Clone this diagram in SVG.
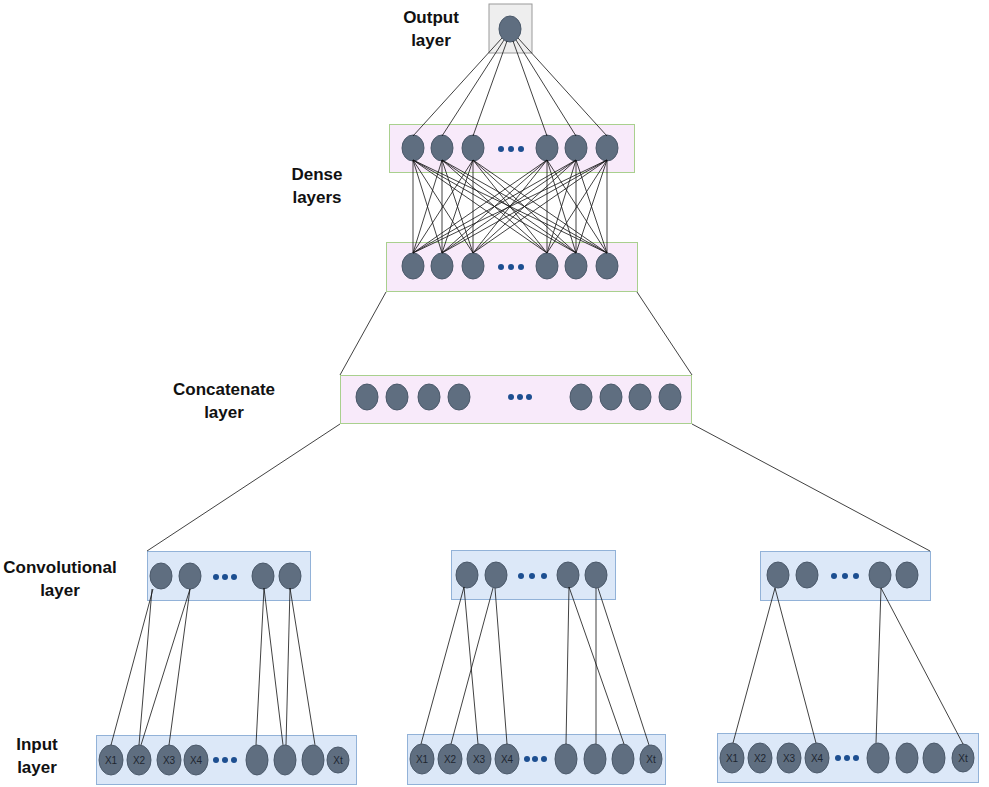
<svg xmlns="http://www.w3.org/2000/svg" width="989" height="787" viewBox="0 0 989 787">
<style>
.lbl{font-family:"Liberation Sans",Arial,sans-serif;font-size:17px;font-weight:bold;fill:#111;text-anchor:middle}
.nl{font-family:"Liberation Sans",Arial,sans-serif;font-size:10px;fill:#1e2630;text-anchor:middle}
.n{fill:#5f6e80;stroke:#4b596a;stroke-width:1}
.dot{fill:#1d4f91}
.pink{fill:#f8eafa;stroke:#a9d08e;stroke-width:1}
.blue{fill:#dce8f8;stroke:#92b2d8;stroke-width:1}
.gray{fill:#eeeeee;stroke:#9a9a9a;stroke-width:1}
.c line{stroke:#111;stroke-width:0.8}
</style>
<rect width="989" height="787" fill="#ffffff"/>
<g id="labels">
<text class="lbl" x="431" y="23">Output</text>
<text class="lbl" x="431" y="46">layer</text>
<text class="lbl" x="317" y="180">Dense</text>
<text class="lbl" x="317" y="203">layers</text>
<text class="lbl" x="224" y="395">Concatenate</text>
<text class="lbl" x="224" y="418">layer</text>
<text class="lbl" x="60" y="573">Convolutional</text>
<text class="lbl" x="60" y="596">layer</text>
<text class="lbl" x="37" y="750">Input</text>
<text class="lbl" x="37" y="773">layer</text>
</g>
<g id="output">
<rect class="gray" x="489" y="4" width="43" height="49"/>
<ellipse class="n" cx="510" cy="29" rx="11" ry="13"/>
</g>
<g id="dense1">
<rect class="pink" x="389.5" y="124.5" width="245" height="48"/>
<ellipse class="n" cx="413" cy="148" rx="11" ry="13"/>
<ellipse class="n" cx="442" cy="148" rx="11" ry="13"/>
<ellipse class="n" cx="473" cy="148" rx="11" ry="13"/>
<circle class="dot" cx="501" cy="149" r="3"/><circle class="dot" cx="511" cy="149" r="3"/><circle class="dot" cx="521" cy="149" r="3"/>
<ellipse class="n" cx="547" cy="148" rx="11" ry="13"/>
<ellipse class="n" cx="576" cy="148" rx="11" ry="13"/>
<ellipse class="n" cx="607" cy="148" rx="11" ry="13"/>
</g>
<g id="dense2">
<rect class="pink" x="386.5" y="242.5" width="251" height="49"/>
<ellipse class="n" cx="413" cy="266" rx="11" ry="13"/>
<ellipse class="n" cx="442" cy="266" rx="11" ry="13"/>
<ellipse class="n" cx="473" cy="266" rx="11" ry="13"/>
<circle class="dot" cx="501" cy="267" r="3"/><circle class="dot" cx="511" cy="267" r="3"/><circle class="dot" cx="521" cy="267" r="3"/>
<ellipse class="n" cx="547" cy="266" rx="11" ry="13"/>
<ellipse class="n" cx="576" cy="266" rx="11" ry="13"/>
<ellipse class="n" cx="607" cy="266" rx="11" ry="13"/>
</g>
<g id="concat">
<rect class="pink" x="340.5" y="375.5" width="351" height="48"/>
<ellipse class="n" cx="367" cy="397" rx="11" ry="13"/>
<ellipse class="n" cx="397" cy="397" rx="11" ry="13"/>
<ellipse class="n" cx="429" cy="397" rx="11" ry="13"/>
<ellipse class="n" cx="459" cy="397" rx="11" ry="13"/>
<circle class="dot" cx="511" cy="397" r="3"/><circle class="dot" cx="520" cy="397" r="3"/><circle class="dot" cx="529" cy="397" r="3"/>
<ellipse class="n" cx="581" cy="397" rx="11" ry="13"/>
<ellipse class="n" cx="611" cy="397" rx="11" ry="13"/>
<ellipse class="n" cx="640" cy="397" rx="11" ry="13"/>
<ellipse class="n" cx="670" cy="397" rx="11" ry="13"/>
</g>
<g id="conv1">
<rect class="blue" x="147.5" y="551.5" width="163" height="49"/>
<ellipse class="n" cx="161" cy="576" rx="11" ry="13"/>
<ellipse class="n" cx="190" cy="576" rx="11" ry="13"/>
<circle class="dot" cx="216" cy="577" r="3"/><circle class="dot" cx="225" cy="577" r="3"/><circle class="dot" cx="234" cy="577" r="3"/>
<ellipse class="n" cx="263" cy="576" rx="11" ry="13"/>
<ellipse class="n" cx="290" cy="576" rx="11" ry="13"/>
</g>
<g id="conv2">
<rect class="blue" x="451.5" y="550.5" width="164" height="49"/>
<ellipse class="n" cx="467" cy="575" rx="11" ry="13"/>
<ellipse class="n" cx="496" cy="575" rx="11" ry="13"/>
<circle class="dot" cx="521" cy="576" r="3"/><circle class="dot" cx="532" cy="576" r="3"/><circle class="dot" cx="544" cy="576" r="3"/>
<ellipse class="n" cx="568" cy="575" rx="11" ry="13"/>
<ellipse class="n" cx="596" cy="575" rx="11" ry="13"/>
</g>
<g id="conv3">
<rect class="blue" x="760.5" y="551.5" width="170" height="49"/>
<ellipse class="n" cx="778" cy="575" rx="11" ry="13"/>
<ellipse class="n" cx="807" cy="575" rx="11" ry="13"/>
<circle class="dot" cx="834" cy="576" r="3"/><circle class="dot" cx="845" cy="576" r="3"/><circle class="dot" cx="856" cy="576" r="3"/>
<ellipse class="n" cx="880" cy="575" rx="11" ry="13"/>
<ellipse class="n" cx="907" cy="575" rx="11" ry="13"/>
</g>
<g id="input1">
<rect class="blue" x="96.5" y="735.5" width="260" height="49"/>
<ellipse class="n" cx="111" cy="760" rx="12" ry="15"/><text class="nl" x="111" y="764">X1</text>
<ellipse class="n" cx="139" cy="760" rx="12" ry="15"/><text class="nl" x="139" y="764">X2</text>
<ellipse class="n" cx="169" cy="760" rx="12" ry="15"/><text class="nl" x="169" y="764">X3</text>
<ellipse class="n" cx="196" cy="760" rx="12" ry="15"/><text class="nl" x="196" y="764">X4</text>
<circle class="dot" cx="216" cy="760" r="3"/><circle class="dot" cx="225" cy="760" r="3"/><circle class="dot" cx="234" cy="760" r="3"/>
<ellipse class="n" cx="257" cy="760" rx="11" ry="15"/>
<ellipse class="n" cx="285" cy="760" rx="11" ry="15"/>
<ellipse class="n" cx="313" cy="760" rx="11" ry="15"/>
<ellipse class="n" cx="338" cy="760" rx="11" ry="13"/><text class="nl" x="338" y="764">Xt</text>
</g>
<g id="input2">
<rect class="blue" x="407.5" y="734.5" width="258" height="50"/>
<ellipse class="n" cx="422" cy="759" rx="12" ry="15"/><text class="nl" x="422" y="763">X1</text>
<ellipse class="n" cx="450" cy="759" rx="12" ry="15"/><text class="nl" x="450" y="763">X2</text>
<ellipse class="n" cx="479" cy="759" rx="12" ry="15"/><text class="nl" x="479" y="763">X3</text>
<ellipse class="n" cx="507" cy="759" rx="12" ry="15"/><text class="nl" x="507" y="763">X4</text>
<circle class="dot" cx="527" cy="759" r="3"/><circle class="dot" cx="535" cy="759" r="3"/><circle class="dot" cx="544" cy="759" r="3"/>
<ellipse class="n" cx="566" cy="759" rx="11" ry="15"/>
<ellipse class="n" cx="595" cy="759" rx="11" ry="15"/>
<ellipse class="n" cx="623" cy="759" rx="11" ry="15"/>
<ellipse class="n" cx="651" cy="759" rx="11" ry="14"/><text class="nl" x="651" y="763">Xt</text>
</g>
<g id="input3">
<rect class="blue" x="717.5" y="733.5" width="261" height="49"/>
<ellipse class="n" cx="732" cy="758" rx="12" ry="15"/><text class="nl" x="732" y="762">X1</text>
<ellipse class="n" cx="760" cy="758" rx="12" ry="15"/><text class="nl" x="760" y="762">X2</text>
<ellipse class="n" cx="789" cy="758" rx="12" ry="15"/><text class="nl" x="789" y="762">X3</text>
<ellipse class="n" cx="817" cy="758" rx="12" ry="15"/><text class="nl" x="817" y="762">X4</text>
<circle class="dot" cx="838" cy="758" r="3"/><circle class="dot" cx="847" cy="758" r="3"/><circle class="dot" cx="856" cy="758" r="3"/>
<ellipse class="n" cx="878" cy="758" rx="11" ry="15"/>
<ellipse class="n" cx="907" cy="758" rx="11" ry="15"/>
<ellipse class="n" cx="934" cy="758" rx="11" ry="15"/>
<ellipse class="n" cx="963" cy="758" rx="11" ry="14"/><text class="nl" x="963" y="762">Xt</text>
</g>
<g id="connectors" class="c">
<line x1="502" y1="38" x2="413" y2="136"/>
<line x1="504" y1="40" x2="442" y2="136"/>
<line x1="507" y1="41" x2="473" y2="136"/>
<line x1="513" y1="41" x2="547" y2="136"/>
<line x1="516" y1="40" x2="576" y2="136"/>
<line x1="518" y1="38" x2="607" y2="136"/>
<line x1="413" y1="160" x2="413" y2="253"/><line x1="413" y1="160" x2="442" y2="253"/><line x1="413" y1="160" x2="473" y2="253"/><line x1="413" y1="160" x2="547" y2="253"/><line x1="413" y1="160" x2="576" y2="253"/><line x1="413" y1="160" x2="607" y2="253"/>
<line x1="442" y1="160" x2="413" y2="253"/><line x1="442" y1="160" x2="442" y2="253"/><line x1="442" y1="160" x2="473" y2="253"/><line x1="442" y1="160" x2="547" y2="253"/><line x1="442" y1="160" x2="576" y2="253"/><line x1="442" y1="160" x2="607" y2="253"/>
<line x1="473" y1="160" x2="413" y2="253"/><line x1="473" y1="160" x2="442" y2="253"/><line x1="473" y1="160" x2="473" y2="253"/><line x1="473" y1="160" x2="547" y2="253"/><line x1="473" y1="160" x2="576" y2="253"/><line x1="473" y1="160" x2="607" y2="253"/>
<line x1="547" y1="160" x2="413" y2="253"/><line x1="547" y1="160" x2="442" y2="253"/><line x1="547" y1="160" x2="473" y2="253"/><line x1="547" y1="160" x2="547" y2="253"/><line x1="547" y1="160" x2="576" y2="253"/><line x1="547" y1="160" x2="607" y2="253"/>
<line x1="576" y1="160" x2="413" y2="253"/><line x1="576" y1="160" x2="442" y2="253"/><line x1="576" y1="160" x2="473" y2="253"/><line x1="576" y1="160" x2="547" y2="253"/><line x1="576" y1="160" x2="576" y2="253"/><line x1="576" y1="160" x2="607" y2="253"/>
<line x1="607" y1="160" x2="413" y2="253"/><line x1="607" y1="160" x2="442" y2="253"/><line x1="607" y1="160" x2="473" y2="253"/><line x1="607" y1="160" x2="547" y2="253"/><line x1="607" y1="160" x2="576" y2="253"/><line x1="607" y1="160" x2="607" y2="253"/>
<line x1="386" y1="292" x2="340" y2="375"/>
<line x1="637" y1="292" x2="692" y2="375"/>
<line x1="340" y1="424" x2="147" y2="551"/>
<line x1="692" y1="424" x2="930" y2="551"/>
<line x1="153" y1="589" x2="111" y2="745"/>
<line x1="152" y1="589" x2="139" y2="745"/>
<line x1="190" y1="589" x2="141" y2="745"/>
<line x1="190" y1="589" x2="169" y2="745"/>
<line x1="264" y1="588" x2="256" y2="745"/>
<line x1="264" y1="588" x2="283" y2="745"/>
<line x1="290" y1="588" x2="286" y2="745"/>
<line x1="290" y1="588" x2="315" y2="745"/>
<line x1="464" y1="587" x2="421" y2="744"/>
<line x1="464" y1="587" x2="478" y2="744"/>
<line x1="493" y1="588" x2="451" y2="744"/>
<line x1="495" y1="588" x2="507" y2="744"/>
<line x1="569" y1="587" x2="566" y2="744"/>
<line x1="569" y1="587" x2="624" y2="744"/>
<line x1="596" y1="588" x2="596" y2="744"/>
<line x1="598" y1="588" x2="649" y2="745"/>
<line x1="775" y1="588" x2="733" y2="743"/>
<line x1="775" y1="588" x2="816" y2="743"/>
<line x1="881" y1="588" x2="876" y2="743"/>
<line x1="881" y1="588" x2="963" y2="744"/>
</g>
</svg>
